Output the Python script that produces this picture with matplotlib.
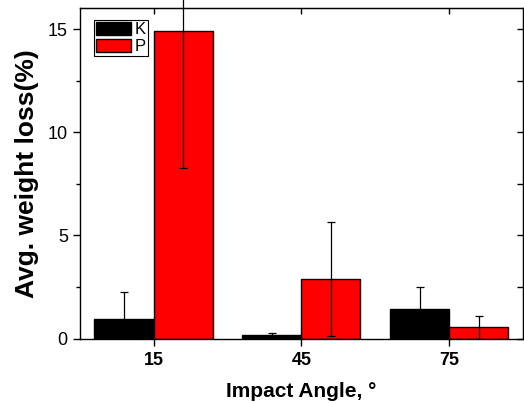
import matplotlib
matplotlib.use('Agg')
import matplotlib.pyplot as plt
import numpy as np
from matplotlib.transforms import Bbox, TransformedBbox

plt.rcParams['font.family'] = ['Liberation Sans', 'DejaVu Sans']

angles = [15, 45, 75]
k_mean = [0.96, 0.15, 1.42]
k_err = [1.28, 0.11, 1.08]
p_mean = [14.92, 2.87, 0.54]
p_err = [6.66, 2.77, 0.55]

fig = plt.figure(figsize=(5.24, 4.03), dpi=100)
ax = fig.add_axes([0.152, 0.160, 0.846, 0.819])

x = np.array(angles, dtype=float)
w = 12.
ax.bar(x - w / 2, k_mean, w, color='black', edgecolor='black', linewidth=1, label='K')
ax.bar(x + w / 2, p_mean, w, color='#ff0000', edgecolor='black', linewidth=1, label='P')

# error bars may run above the frame (as in the original), but not below it
clip = TransformedBbox(Bbox([[0, 0], [1, 2]]), ax.transAxes)
for xs, m, e in [(x - w / 2, k_mean, k_err), (x + w / 2, p_mean, p_err)]:
    eb = ax.errorbar(xs, m, yerr=e, fmt='none', ecolor='black', elinewidth=0.9,
                     capsize=3, capthick=0.9)
    for art in list(eb[1]) + list(eb[2]):
        art.set_clip_box(clip)

ax.set_xlim(0, 90)
ax.set_ylim(0, 16)
ax.set_xticks(angles)
ax.set_xticklabels([str(a) for a in angles], fontsize=13, fontweight='bold')
ax.set_yticks([0, 5, 10, 15])
ax.set_yticks([2.5, 7.5, 12.5], minor=True)
ax.tick_params(axis='y', labelsize=13, direction='out', length=5, width=1)
ax.tick_params(axis='y', which='minor', direction='out', length=3, width=1)
ax.tick_params(axis='x', direction='out', length=5, width=1, pad=5)

# mirrored inward ticks on top and right
ax2 = ax.secondary_yaxis('right')
ax2.set_yticks([0, 2.5, 5, 7.5, 10, 12.5, 15])
ax2.tick_params(direction='in', length=4, width=1, labelright=False)
ax3 = ax.secondary_xaxis('top')
ax3.set_xticks(angles)
ax3.tick_params(direction='in', length=4, width=1, labeltop=False)

for sp in ax.spines.values():
    sp.set_linewidth(1)

ax.set_xlabel('Impact Angle, \u00b0', fontsize=15, fontweight='bold', labelpad=9)
ax.set_ylabel('Avg. weight loss(%)', fontsize=19, fontweight='bold', labelpad=6)

leg = ax.legend(loc='upper left', bbox_to_anchor=(0.02, 0.98), fontsize=12,
                fancybox=False, framealpha=1, edgecolor='black',
                handlelength=2.1, handleheight=0.8, handletextpad=0.25,
                borderpad=0.12, labelspacing=0.12, borderaxespad=0.3)
leg.get_frame().set_linewidth(0.8)

fig.savefig('out.png', dpi=100)
